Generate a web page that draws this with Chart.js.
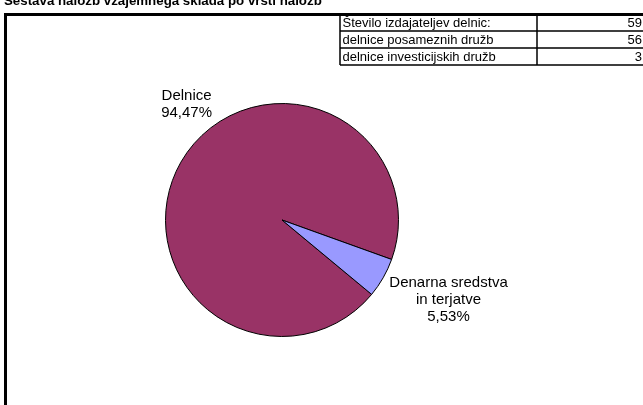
<!DOCTYPE html>
<html>
<head>
<meta charset="utf-8">
<script src="https://cdn.jsdelivr.net/npm/chart.js@4/dist/chart.umd.min.js"></script>
<style>
  html, body { margin: 0; padding: 0; background: #fff; }
  #wrap { position: relative; width: 643px; height: 405px; overflow: hidden; }
</style>
</head>
<body>
<div id="wrap"><canvas id="pie" width="643" height="405"></canvas></div>
<script>
// podatki
var naslov = 'Sestava naložb vzajemnega sklada po vrsti naložb';
var kategorije = [['Delnice'], ['Denarna sredstva', 'in terjatve']];
var deleži = [94.47, 5.53];
var barve = ['#993366', '#9999FF'];

var tabelaOpis = ['Število izdajateljev delnic:', 'delnice posameznih družb', 'delnice investicijskih družb'];
var tabelaVrednost = [59, 56, 3];

// kje stojijo oznake glede na sredino pite (kot v stopinjah, faktor polmera)
var oznakePoz = [[-129.4, 1.29], [25.6, 1.585]];

function fmt(v) {
  return v.toFixed(2).replace('.', ',') + '%';
}

var okvir = {
  id: 'okvir',
  afterDraw: function(chart) {
    var c = chart.ctx;
    c.save();
    // naslov (odrezan na vrhu)
    c.fillStyle = '#000';
    c.font = 'bold 13.3px "Liberation Sans", Arial, sans-serif';
    c.textBaseline = 'alphabetic';
    c.textAlign = 'left';
    c.fillText(naslov, 4, 4.5);

    // okvir grafa
    c.strokeStyle = '#000';
    c.lineWidth = 3;
    c.beginPath();
    c.moveTo(5.5, 420);
    c.lineTo(5.5, 14.5);
    c.lineTo(660, 14.5);
    c.stroke();

    // tabela
    c.lineWidth = 1.5;
    var x0 = 340, x1 = 537, x2 = 660, y0 = 14, h = 17;
    c.beginPath();
    for (var i = 0; i <= tabelaOpis.length; i++) {
      c.moveTo(x0, y0 + i * h);
      c.lineTo(x2, y0 + i * h);
    }
    c.moveTo(x0, y0); c.lineTo(x0, y0 + tabelaOpis.length * h);
    c.moveTo(x1, y0); c.lineTo(x1, y0 + tabelaOpis.length * h);
    c.stroke();
    c.font = '13px "Liberation Sans", Arial, sans-serif';
    for (var j = 0; j < tabelaOpis.length; j++) {
      c.textAlign = 'left';
      c.fillText(tabelaOpis[j], x0 + 2.5, y0 + j * h + 13);
      c.textAlign = 'right';
      c.fillText(String(tabelaVrednost[j]), 642, y0 + j * h + 13);
    }

    // oznake pite
    var arcs = chart.getDatasetMeta(0).data;
    c.font = '15px "Liberation Sans", Arial, sans-serif';
    c.textAlign = 'center';
    c.textBaseline = 'middle';
    arcs.forEach(function(a, k) {
      var p = oznakePoz[k];
      var ang = p[0] * Math.PI / 180;
      var cx = a.x + Math.cos(ang) * a.outerRadius * p[1];
      var cy = a.y + Math.sin(ang) * a.outerRadius * p[1];
      var lines = kategorije[k].concat([fmt(deleži[k])]);
      var lh = 17;
      var top = cy - (lines.length - 1) * lh / 2;
      lines.forEach(function(t, n) {
        c.fillText(t, cx, top + n * lh);
      });
    });
    c.restore();
  }
};

new Chart(document.getElementById('pie'), {
  type: 'pie',
  data: {
    labels: kategorije.map(function(k) { return k.join(' '); }),
    datasets: [{
      data: deleži,
      backgroundColor: barve,
      borderColor: '#000',
      borderWidth: 1
    }]
  },
  options: {
    responsive: false,
    animation: false,
    rotation: 129.7,
    layout: { padding: { left: 165, right: 244, top: 103, bottom: 68 } },
    plugins: {
      legend: { display: false },
      tooltip: { enabled: false }
    }
  },
  plugins: [okvir]
});
</script>
</body>
</html>
